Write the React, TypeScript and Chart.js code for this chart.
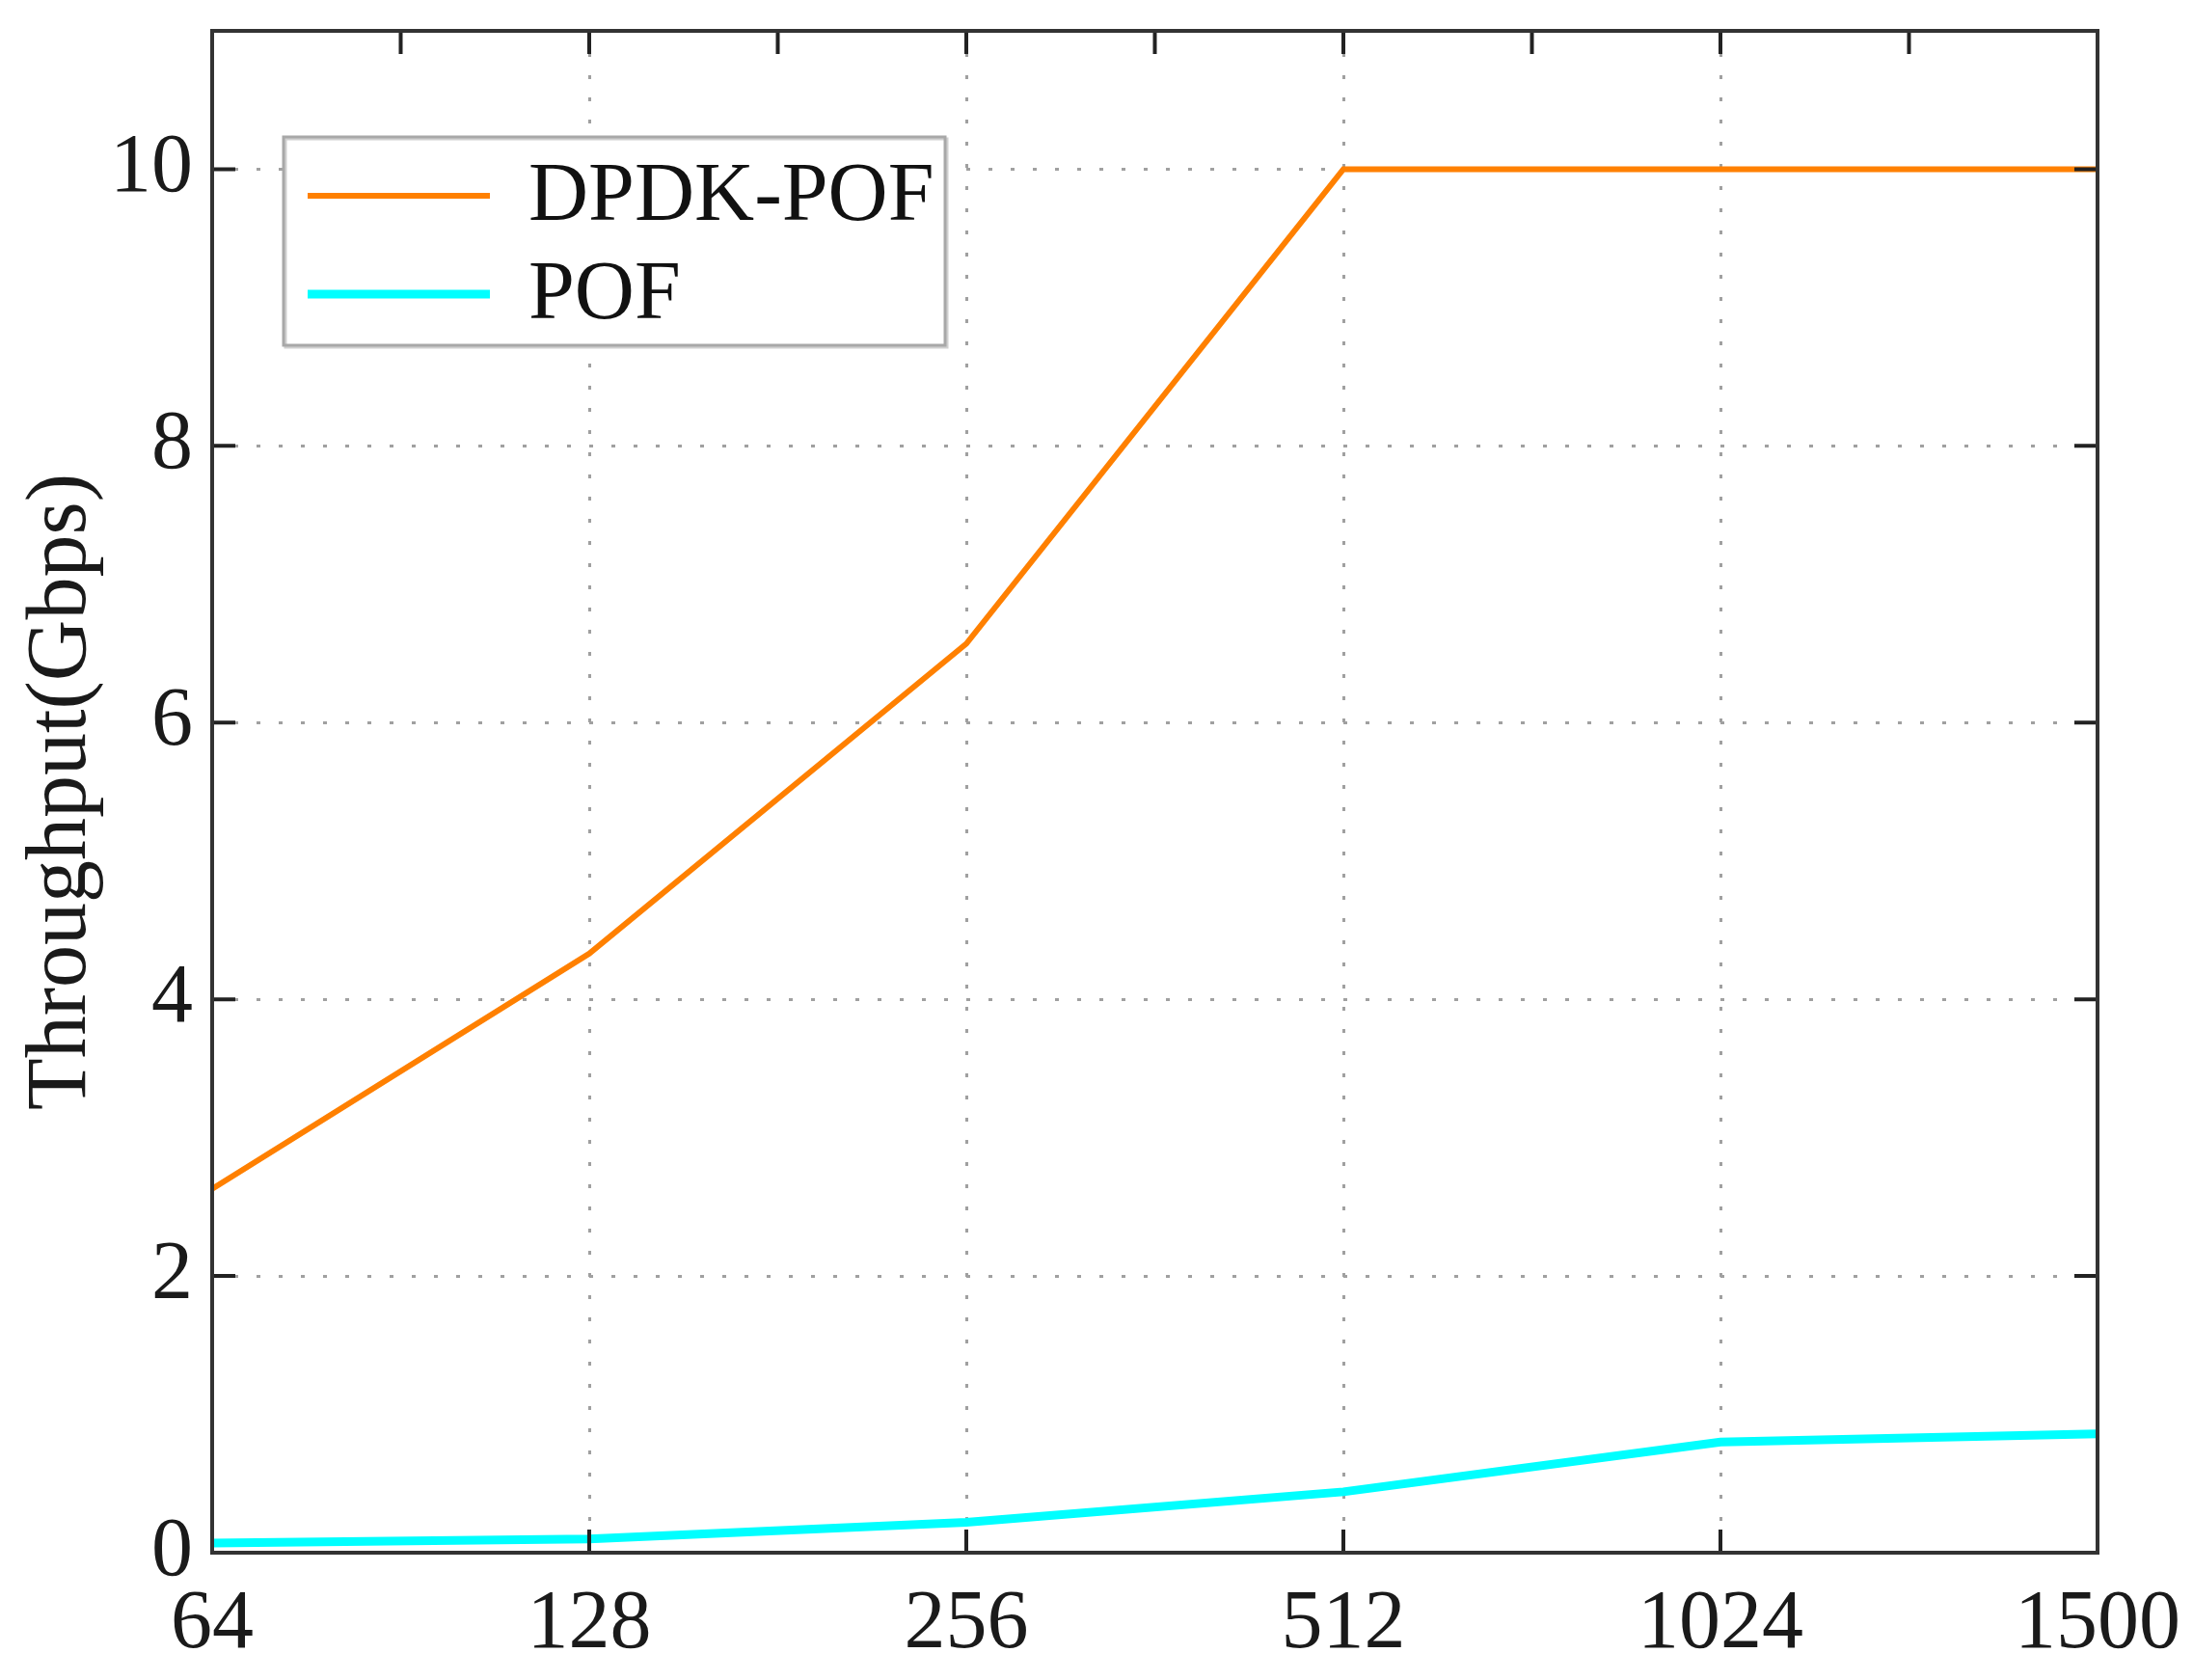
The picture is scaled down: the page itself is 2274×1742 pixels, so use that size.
import React, { useEffect, useRef } from 'react';
import { Chart, registerables } from 'chart.js';

Chart.register(...registerables);

const packetSizes = ['64', '128', '256', '512', '1024', '1500'];
const dpdkPofValues = [2.63, 4.33, 6.57, 10, 10, 10];
const pofValues = [0.07, 0.1, 0.22, 0.44, 0.8, 0.86];
const seriesLabels = ['DPDK-POF', 'POF'];
const seriesColors = ['#FF8000', '#00FFFF'];
const yTitle = 'Throughput(Gbps)';
const yMin = 0;
const yMax = 11;
const yStep = 2;

const FONT = '"Liberation Serif", "Times New Roman", serif';

const framePlugin = {
  id: 'framePlugin',
  afterDraw(chart: any) {
    const { ctx, chartArea } = chart;
    const xs = chart.scales.x;
    const ys = chart.scales.y;
    const { left, right, top, bottom } = chartArea;
    const tl = 24;
    ctx.save();
    ctx.strokeStyle = '#222';
    ctx.lineWidth = 4;
    ctx.beginPath();
    for (let i = 0; i < packetSizes.length; i++) {
      const px = xs.getPixelForValue(i);
      ctx.moveTo(px, bottom);
      ctx.lineTo(px, bottom - tl);
    }
    for (let i = 0; i <= (packetSizes.length - 1) * 2; i++) {
      const px = xs.getPixelForValue(i / 2);
      ctx.moveTo(px, top);
      ctx.lineTo(px, top + tl);
    }
    ys.ticks.forEach((t: any) => {
      const py = ys.getPixelForValue(t.value);
      ctx.moveTo(left, py);
      ctx.lineTo(left + tl, py);
      ctx.moveTo(right, py);
      ctx.lineTo(right - tl, py);
    });
    ctx.stroke();
    ctx.strokeStyle = '#333';
    ctx.lineWidth = 4;
    ctx.strokeRect(left, top, right - left, bottom - top);
    ctx.restore();
  },
};

const legendPlugin = {
  id: 'boxLegend',
  afterDraw(chart: any) {
    const { ctx, chartArea } = chart;
    const bx = chartArea.left + 74;
    const by = chartArea.top + 110;
    const bw = 686;
    const bh = 216;
    ctx.save();
    ctx.fillStyle = '#ffffff';
    ctx.fillRect(bx, by, bw, bh);
    ctx.strokeStyle = '#d0d0d0';
    ctx.lineWidth = 3;
    ctx.strokeRect(bx + 2, by + 2, bw, bh);
    ctx.strokeStyle = '#a8a8a8';
    ctx.lineWidth = 3;
    ctx.strokeRect(bx, by, bw, bh);
    const rowH = 102;
    chart.data.datasets.forEach((ds: any, i: number) => {
      const cy = by + 61 + i * rowH;
      ctx.strokeStyle = ds.borderColor;
      ctx.lineWidth = ds.borderWidth;
      ctx.beginPath();
      ctx.moveTo(bx + 25, cy);
      ctx.lineTo(bx + 214, cy);
      ctx.stroke();
      ctx.fillStyle = '#111';
      ctx.font = `86px ${FONT}`;
      ctx.textBaseline = 'middle';
      ctx.textAlign = 'left';
      ctx.fillText(ds.label, bx + 254, cy + 2);
    });
    ctx.restore();
  },
};

export default function App() {
  const canvasRef = useRef<HTMLCanvasElement | null>(null);

  useEffect(() => {
    if (!canvasRef.current) return;
    const chart = new Chart(canvasRef.current, {
      type: 'line',
      data: {
        labels: packetSizes,
        datasets: [
          {
            label: seriesLabels[0],
            data: dpdkPofValues,
            borderColor: seriesColors[0],
            backgroundColor: seriesColors[0],
            borderWidth: 6,
            pointRadius: 0,
            tension: 0,
            fill: false,
          },
          {
            label: seriesLabels[1],
            data: pofValues,
            borderColor: seriesColors[1],
            backgroundColor: seriesColors[1],
            borderWidth: 9,
            pointRadius: 0,
            tension: 0,
            fill: false,
          },
        ],
      },
      options: {
        responsive: false,
        animation: false,
        layout: { padding: { top: 32, right: 99, left: 0, bottom: 0 } },
        plugins: {
          legend: { display: false },
          tooltip: { enabled: false },
        },
        scales: {
          x: {
            type: 'category',
            offset: false,
            grid: {
              display: true,
              drawTicks: false,
              color: '#a0a0a0',
              lineWidth: 3,
            },
            border: { display: false, dash: [4, 19] },
            ticks: {
              color: '#1a1a1a',
              font: { family: FONT, size: 86, lineHeight: 1.48 },
              padding: 12,
              maxRotation: 0,
              autoSkip: false,
            },
            afterFit(scale: any) {
              scale.height = 132;
            },
          },
          y: {
            type: 'linear',
            min: yMin,
            max: yMax,
            grid: {
              display: true,
              drawTicks: false,
              color: '#a0a0a0',
              lineWidth: 3,
            },
            border: { display: false, dash: [4, 19] },
            ticks: {
              stepSize: yStep,
              includeBounds: false,
              color: '#1a1a1a',
              font: { family: FONT, size: 86, lineHeight: 0.01 },
              padding: 20,
            },
            title: {
              display: true,
              text: yTitle,
              color: '#1a1a1a',
              font: { family: FONT, size: 88 },
              padding: { top: 12, bottom: 0 },
            },
            afterFit(scale: any) {
              scale.width = 220;
            },
          },
        },
      },
      plugins: [legendPlugin, framePlugin],
    });
    return () => chart.destroy();
  }, []);

  return (
    <div style={{ position: 'absolute', left: 0, top: 0, width: 2274, height: 1742, background: '#fff' }}>
      <canvas ref={canvasRef} width={2274} height={1742} />
    </div>
  );
}
